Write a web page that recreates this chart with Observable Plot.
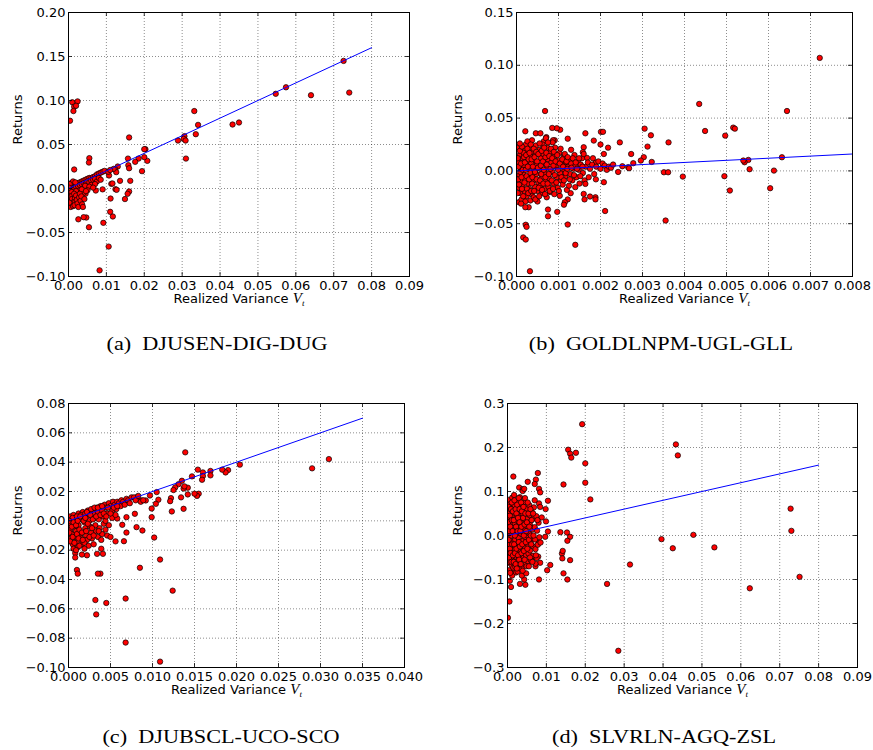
<!DOCTYPE html>
<html><head><meta charset="utf-8">
<script src="https://cdn.jsdelivr.net/npm/d3@7"></script>
<script src="https://cdn.jsdelivr.net/npm/@observablehq/plot@0.6"></script>
<style>
body{margin:0;background:#fff;}
#wrap{position:relative;width:873px;height:750px;background:#fff;overflow:hidden;}
.panel{position:absolute;}
.cap{position:absolute;width:400px;font-family:"Liberation Serif","Times New Roman",serif;font-size:19px;text-align:center;line-height:24px;white-space:pre;color:#000;transform:scaleX(1.17);transform-origin:50% 50%;}
</style></head><body><div id="wrap"></div>
<script>
// ---------- tick values ----------
const xTicksA = [0,0.01,0.02,0.03,0.04,0.05,0.06,0.07,0.08,0.09];
const yTicksA = [-0.10,-0.05,0,0.05,0.10,0.15,0.20];
const xTicksB = [0,0.001,0.002,0.003,0.004,0.005,0.006,0.007,0.008];
const yTicksB = [-0.10,-0.05,0,0.05,0.10,0.15];
const xTicksC = [0,0.005,0.010,0.015,0.020,0.025,0.030,0.035,0.040];
const yTicksC = [-0.10,-0.08,-0.06,-0.04,-0.02,0,0.02,0.04,0.06,0.08];
const xTicksD = [0,0.01,0.02,0.03,0.04,0.05,0.06,0.07,0.08,0.09];
const yTicksD = [-0.3,-0.2,-0.1,0,0.1,0.2,0.3];

// ---------- captions ----------
const captions = ["(a)  DJUSEN-DIG-DUG","(b)  GOLDLNPM-UGL-GLL","(c)  DJUBSCL-UCO-SCO","(d)  SLVRLN-AGQ-ZSL"];

// ---------- fitted lines (endpoints) ----------
const fitA = [[0,0],[0.08,0.16]];
const fitB = [[0,0],[0.008,0.016]];
const fitC = [[0,0],[0.035,0.07]];
const fitD = [[0,0],[0.08,0.16]];

// ---------- scatter points [realized variance, return] ----------
const ptsA = [
[0.0726,0.145],[0.0741,0.109],[0.0640,0.106],[0.0574,0.115],[0.0547,0.1076],[0.0450,0.075],[0.0433,0.0727],
[0.0332,0.088],[0.0342,0.0723],[0.0336,0.0617],[0.0306,0.0595],[0.0304,0.0564],[0.0309,0.0545],[0.0289,0.0545],
[0.0310,0.034],[0.0203,0.0447],[0.0200,0.0447],[0.0208,0.0314],[0.0200,0.0356],[0.0194,0.0197],[0.0185,0.034],
[0.0176,0.0303],[0.0160,0.058],[0.0157,0.034],[0.0158,0.0265],[0.0160,0.023],[0.0163,0.0087],[0.0160,-0.0034],
[0.0156,-0.006],[0.0149,-0.012],[0.0136,0.0087],[0.0130,0.025],[0.0123,0.022],[0.0126,0.0186],[0.0119,0.0223],
[0.0124,-0.0008],[0.0113,0.0053],[0.0117,-0.0318],[0.0110,-0.0265],[0.0111,-0.0114],[0.0106,-0.066],[0.0092,-0.039],
[0.0082,-0.093],[0.0054,-0.044],[0.0047,-0.033],[0.0040,-0.0326],[0.0026,-0.035],[0.0055,0.0345],[0.0054,0.0295],
[0.0015,0.0216],[0.0010,0.098],[0.0024,0.099],[0.0015,0.093],[0.0020,0.094],[0.0013,0.088],[0.0004,0.077],
[0.0107,0.0148],[0.0116,0.0057],[0.0072,-0.0023],[0.0063,0.0053],[0.0127,-0.0015],[0.0090,-0.001],
[0.0003,0.001],[0.0008,0.002],[0.0012,0.003],[0.0016,0.004],[0.0020,0.005],[0.0025,0.006],[0.0030,0.007],
[0.0035,0.008],[0.0040,0.009],[0.0045,0.010],[0.0050,0.011],[0.0055,0.012],[0.0060,0.012],[0.0065,0.013],
[0.0070,0.014],[0.0075,0.016],[0.0080,0.017],[0.0085,0.018],[0.0090,0.019],[0.0095,0.020],[0.0105,0.019],[0.0110,0.021],
[0.0010,0.000],[0.0015,0.001],[0.0020,0.002],[0.0025,0.003],[0.0030,0.004],[0.0035,0.005],[0.0040,0.006],
[0.0045,0.005],[0.0050,0.008],[0.0055,0.007],[0.0060,0.009],[0.0065,0.010],[0.0070,0.011],[0.0075,0.008],
[0.0080,0.012],[0.0085,0.010],[0.0044,0.003],[0.0060,0.004],[0.0070,0.005],[0.0055,0.002],[0.0065,0.001],
[0.0050,-0.002],[0.0045,-0.006],[0.0040,-0.005],[0.0030,-0.002],[0.0035,-0.001],[0.0020,-0.003],
[0.0002,-0.002],[0.0004,-0.006],[0.0003,-0.010],[0.0005,-0.014],[0.0004,-0.018],[0.0006,-0.021],[0.0008,-0.004],
[0.0010,-0.008],[0.0009,-0.012],[0.0011,-0.016],[0.0012,-0.020],[0.0015,-0.006],[0.0017,-0.011],[0.0018,-0.015],
[0.0016,-0.019],[0.0020,-0.008],[0.0022,-0.013],[0.0024,-0.017],[0.0026,-0.021],[0.0028,-0.010],[0.0030,-0.006],
[0.0032,-0.014],[0.0034,-0.009],[0.0036,-0.018],[0.0038,-0.021],[0.0005,0.003],[0.0007,0.006],[0.0012,0.008],
[0.0018,0.007],[0.0003,0.005],[0.0002,-0.016],[0.0001,0.001],[0.0042,-0.012],[0.0046,-0.003]
];

const ptsB = [
[0.00722,0.107],[0.00644,0.0567],[0.00435,0.0634],[0.00449,0.0378],[0.00516,0.041],[0.0052,0.040],[0.00497,0.0334],
[0.00632,0.0129],[0.00613,0.0003],[0.00604,-0.0164],[0.00552,0.0104],[0.00543,0.0082],[0.0054,0.0098],[0.00555,0.0016],
[0.00508,-0.0186],[0.00495,-0.005],[0.00396,-0.0054],[0.00355,-0.047],[0.00351,-0.0013],[0.00361,-0.0013],[0.00362,0.027],
[0.0032,0.0337],[0.00312,0.023],[0.00305,0.040],[0.00322,0.0085],[0.00303,0.013],[0.00296,0.0098],[0.00273,0.016],
[0.00278,0.0073],[0.00266,0.0035],[0.00268,0.0025],[0.00246,0.027],[0.00242,-0.001],[0.00252,0.0044],[0.00211,-0.038],
[0.00208,-0.0107],[0.00218,0.022],[0.00208,0.016],[0.00201,0.037],[0.00206,0.037],[0.0020,0.025],[0.00189,0.0079],
[0.00188,-0.025],[0.00188,-0.027],[0.00189,-0.008],[0.00184,0.0287],[0.00175,-0.0243],[0.00162,-0.027],[0.0016,-0.0218],
[0.00162,-0.009],[0.00164,-0.0123],[0.0016,0.0224],[0.00164,0.0356],[0.00158,0.0177],[0.00168,0.0123],[0.0014,-0.070],
[0.00122,-0.0508],[0.0014,-0.0154],[0.00129,-0.0211],[0.00122,-0.027],[0.00115,-0.0296],[0.00113,-0.032],[0.00122,0.0305],
[0.00104,0.039],[0.00096,0.0404],[0.00085,0.0407],[0.00091,0.029],[0.00087,0.029],[0.00097,-0.0388],[0.00103,-0.0236],
[0.00075,-0.0366],[0.00075,-0.043],[0.00068,0.0567],[0.00022,-0.051],[0.00016,-0.063],[0.00022,-0.065],[0.00032,-0.095],
[0.00024,-0.053],[0.00021,0.0375],[0.00006,-0.0296],[0.00029,-0.0344],[0.00021,-0.0344],[0.0005,-0.029],[0.00037,0.029],
[0.00046,0.0356],[0.00057,0.0356],[0.00071,0.032],
[0.00005,0.022],[0.00008,0.015],[0.00006,0.008],[0.0001,0.002],[0.00007,-0.004],[0.0001,-0.010],[0.00006,-0.016],
[0.00009,-0.021],[0.00012,-0.027],[0.00015,0.012],[0.00018,0.005],[0.00016,-0.002],[0.0002,-0.008],[0.00014,-0.014],
[0.00019,-0.019],[0.0002,0.019],[0.00022,0.025],[0.00024,-0.024],[0.00025,0.009],[0.00027,-0.012],[0.00017,0.017],
[0.0003,0.021],[0.00032,0.014],[0.00028,0.003],[0.00034,-0.005],[0.0003,-0.017],[0.00036,-0.022],[0.00033,-0.028],
[0.00038,0.018],[0.0004,0.010],[0.00042,0.001],[0.0004,-0.009],[0.00044,-0.015],[0.00041,-0.025],[0.00046,0.024],
[0.00048,0.006],[0.00047,-0.003],[0.0005,-0.019],[0.00045,0.015],[0.00052,-0.011],[0.00035,0.007],[0.00037,-0.012],
[0.00055,0.020],[0.00058,0.012],[0.00056,0.002],[0.0006,-0.006],[0.00057,-0.014],[0.00062,-0.021],[0.00065,0.028],
[0.00064,0.016],[0.00066,0.007],[0.00068,-0.002],[0.0007,-0.010],[0.00067,-0.017],[0.00072,-0.025],[0.00074,0.022],
[0.00075,0.011],[0.00073,0.003],[0.00078,-0.007],[0.00076,-0.015],[0.0008,0.018],[0.0008,-0.020],[0.00062,0.025],[0.0007,0.031],
[0.00083,0.008],[0.00085,-0.001],[0.00088,-0.012],[0.0009,0.014],[0.00092,0.022],[0.00094,0.004],[0.00096,-0.006],
[0.00098,-0.016],[0.0010,0.010],[0.00102,0.017],[0.00104,-0.002],[0.00106,-0.009],[0.00108,0.006],[0.0011,-0.013],
[0.00112,0.013],[0.00114,0.001],[0.00116,-0.005],[0.00118,0.008],[0.0012,-0.018],[0.0009,-0.022],[0.00086,0.027],
[0.00123,0.004],[0.00126,0.011],[0.00128,-0.003],[0.0013,0.007],[0.00133,-0.009],[0.00136,0.002],[0.00138,0.015],
[0.0014,0.005],[0.00143,-0.006],[0.00146,0.009],[0.00148,0.001],[0.0015,-0.012],[0.00153,0.006],[0.00156,0.012],
[0.00158,-0.002],[0.0013,0.020],[0.00125,-0.014],
[0.00165,0.004],[0.0017,0.008],[0.00175,0.002],[0.0018,0.006],[0.00185,-0.003],[0.0019,0.004],[0.00195,0.009],
[0.0020,0.002],[0.00205,0.007],[0.0021,0.005],[0.00215,0.001],[0.0022,0.004],[0.00225,0.003],[0.0023,0.006],
[0.00172,-0.006],[0.00182,0.012],[0.0016,0.016],
[0.00003,0.012],[0.00004,-0.008],[0.00005,0.004],[0.00006,-0.013],[0.00008,0.019],[0.00009,-0.001],[0.00011,0.007],
[0.00012,-0.006],[0.00013,0.023],[0.00013,-0.017],[0.00015,0.001],[0.00016,-0.024],[0.00018,0.013],[0.00019,-0.011],
[0.0002,0.008],[0.00021,-0.029],[0.00022,0.001],[0.00023,0.015],[0.00024,-0.005],[0.00025,-0.017],[0.00026,0.021],
[0.00027,0.004],[0.00028,-0.021],[0.00029,0.011],[0.0003,-0.008],[0.00008,0.026],[0.00003,-0.021],[0.00011,-0.031],[0.00026,0.028],
[0.00031,0.017],[0.00033,-0.002],[0.00034,0.025],[0.00035,-0.019],[0.00036,0.011],[0.00038,-0.006],[0.00039,0.004],
[0.00041,0.021],[0.00042,-0.019],[0.00043,0.013],[0.00044,-0.001],[0.00045,-0.027],[0.00047,0.018],[0.00048,-0.008],
[0.00049,0.009],[0.00051,0.003],[0.00052,0.016],[0.00053,-0.016],[0.00054,-0.024],[0.00055,0.026],[0.00056,-0.009],
[0.00058,0.005],[0.00059,-0.003],[0.0006,0.019],[0.00061,-0.018],[0.00063,0.009],[0.00064,-0.012],[0.00065,0.001],
[0.00066,0.022],[0.00068,-0.022],[0.00069,0.013],[0.00069,-0.006],
[0.00071,0.017],[0.00072,0.006],[0.00074,-0.012],[0.00075,0.027],[0.00077,-0.003],[0.00078,0.014],[0.00079,-0.019],
[0.00081,0.002],[0.00082,0.021],[0.00084,-0.009],[0.00085,0.012],[0.00087,-0.017],[0.00088,0.005],[0.00089,0.018],
[0.00091,-0.004],[0.00093,0.009],[0.00095,-0.011],[0.00097,0.015],[0.00099,0.001],[0.00101,-0.019],[0.00103,0.007],
[0.00105,0.021],[0.00107,-0.006],[0.00109,0.011],[0.00111,0.004],[0.00113,-0.009],[0.00115,0.016],[0.00117,-0.002],
[0.00119,0.009],[0.00121,0.002],
[0.00122,0.013],[0.00127,-0.008],[0.00131,0.003],[0.00134,0.012],[0.00137,-0.004],[0.00141,0.008],[0.00144,0.002],
[0.00149,0.012],[0.00152,-0.005],[0.00157,0.004]
];

const ptsC = [
[0.0310,0.0421],[0.0290,0.0358],[0.0204,0.0383],[0.0190,0.0346],[0.0187,0.033],[0.0183,0.0349],[0.0169,0.034],
[0.0169,0.031],[0.0160,0.033],[0.0160,0.0305],[0.0159,0.028],[0.0154,0.0349],[0.0147,0.0303],[0.0155,0.0185],
[0.0153,0.017],[0.0150,0.0185],[0.0139,0.0467],[0.0142,0.0226],[0.0142,0.018],[0.0137,0.022],[0.0138,0.0235],
[0.0135,0.0273],[0.0131,0.025],[0.0127,0.0228],[0.0125,0.021],[0.0134,0.016],[0.0137,0.0082],[0.0124,-0.0476],
[0.0123,0.0064],[0.0122,0.0155],[0.0121,0.0134],[0.0109,-0.0264],[0.0102,-0.0114],[0.0099,0.0025],[0.0099,0.0084],
[0.0105,0.0196],[0.0107,0.0144],[0.0097,0.0173],[0.0104,0.0116],[0.0092,0.0139],[0.0087,0.0139],[0.0088,-0.0066],
[0.0085,-0.032],[0.0081,-0.0043],[0.0081,0.016],[0.0079,0.0048],[0.0068,-0.083],[0.0068,-0.053],[0.0069,-0.008],
[0.0069,0.0025],[0.0066,0.012],[0.0066,-0.0139],[0.0064,-0.0027],[0.0045,-0.056],[0.0032,-0.054],[0.0033,-0.0638],
[0.0109,-0.096],[0.0038,-0.036],[0.0035,-0.036],[0.0010,-0.0335],[0.0011,-0.036],[0.0022,-0.0235],[0.0016,-0.023],
[0.0008,-0.022],[0.0008,-0.025],[0.0034,-0.0225],[0.0041,-0.0225],[0.0039,-0.019],[0.0046,-0.010],[0.0050,-0.011],
[0.0056,-0.014],[0.0058,0.0016],
[0.0002,0.003],[0.0004,0.001],[0.0003,-0.002],[0.0002,-0.006],[0.0004,-0.009],[0.0003,-0.012],[0.0005,-0.016],
[0.0006,0.004],[0.0008,0.002],[0.0007,-0.004],[0.0009,-0.007],[0.0008,-0.011],[0.0010,-0.014],[0.0011,-0.018],
[0.0012,0.005],[0.0013,0.001],[0.0012,-0.003],[0.0014,-0.009],[0.0015,-0.012],[0.0016,-0.016],[0.0017,0.006],
[0.0018,0.003],[0.0019,-0.001],[0.0020,-0.005],[0.0021,-0.010],[0.0022,-0.013],[0.0023,0.007],[0.0024,0.004],
[0.0025,0.000],[0.0026,-0.004],[0.0027,-0.008],[0.0028,-0.012],[0.0029,0.008],[0.0030,0.005],[0.0031,0.002],
[0.0032,-0.003],[0.0033,-0.007],[0.0034,0.009],[0.0035,0.006],[0.0036,0.001],[0.0037,-0.005],[0.0038,0.010],
[0.0040,0.007],[0.0041,0.003],[0.0042,-0.002],[0.0043,0.011],[0.0045,0.009],[0.0046,0.005],[0.0048,0.012],
[0.0050,0.010],[0.0052,0.007],[0.0053,0.013],[0.0055,0.011],[0.0057,0.008],[0.0058,0.013],[0.0060,0.012],
[0.0062,0.010],[0.0063,0.014],[0.0065,0.013],[0.0067,0.011],[0.0069,0.015],[0.0071,0.014],[0.0073,0.012],
[0.0075,0.016],[0.0078,0.016],[0.0080,0.014],[0.0083,0.017],[0.0086,0.013],[0.0089,0.014],[0.0005,0.002],
[0.0010,0.003],[0.0015,0.004],[0.0020,0.005],[0.0006,-0.019],[0.0009,-0.020],[0.0013,-0.017],[0.0019,-0.015],
[0.0024,-0.017],[0.0030,-0.016],[0.0035,-0.011],[0.0040,-0.009],[0.0044,-0.006],[0.0048,-0.003],[0.0052,0.002],
[0.0056,0.004],[0.0044,0.000],[0.0039,-0.013],
[0.0001,0.000],[0.0001,-0.008],[0.0002,-0.014],[0.0004,-0.004],[0.0005,-0.011],[0.0006,-0.001],[0.0007,-0.015],
[0.0009,-0.003],[0.0010,-0.009],[0.0011,0.000],[0.0012,-0.012],[0.0013,-0.006],[0.0014,0.003],[0.0016,-0.008],
[0.0017,-0.013],[0.0018,0.000],[0.0019,-0.019],[0.0020,0.002],[0.0021,-0.007],[0.0022,0.006],[0.0023,-0.002],
[0.0025,-0.011],[0.0026,0.004],[0.0027,0.008],[0.0028,-0.005],[0.0029,0.001],[0.0030,-0.010],[0.0031,0.009],
[0.0033,0.003],[0.0035,0.009],[0.0036,-0.007],[0.0038,0.004],[0.0040,0.010],[0.0042,0.005],[0.0045,0.003],
[0.0047,0.009],[0.0050,0.005],[0.0054,0.009],[0.0058,0.010]
];

const ptsD = [
[0.0192,0.253],[0.0156,0.195],[0.0161,0.186],[0.0164,0.177],[0.0176,0.188],[0.0200,0.164],[0.0200,0.120],
[0.0213,0.082],[0.0144,0.116],[0.0433,0.207],[0.0438,0.182],[0.0728,0.061],[0.0730,0.0106],[0.0751,-0.094],
[0.0623,-0.120],[0.0532,-0.027],[0.0478,0.0015],[0.0425,-0.029],[0.0396,-0.0083],[0.0315,-0.066],[0.0256,-0.110],
[0.0285,-0.262],[0.0136,0.0076],[0.0153,0.0068],[0.0161,-0.003],[0.0154,-0.012],[0.0140,-0.041],[0.0142,-0.035],
[0.0141,-0.052],[0.0161,-0.056],[0.0144,-0.086],[0.0154,-0.100],[0.0104,0.009],[0.0110,-0.067],[0.0102,-0.079],
[0.0081,-0.100],[0.0084,-0.062],[0.0072,-0.070],[0.0079,-0.048],[0.0070,-0.047],[0.0001,-0.187],[0.0005,-0.150],
[0.0009,-0.117],[0.0006,-0.103],[0.0015,0.134],[0.0078,0.142],[0.0073,0.127],[0.0070,0.117],[0.0052,0.122],
[0.0030,0.109],[0.0039,0.105],[0.0039,0.101],[0.0043,0.106],[0.0081,0.106],[0.0084,0.098],[0.0104,0.079],
[0.0099,0.032],[0.0098,0.060],[0.0081,0.073],[0.0084,0.065],[0.0032,-0.110],[0.0046,-0.112],[0.0043,-0.100],
[0.0019,-0.080],[0.0097,-0.003],[0.0080,-0.017],[0.0088,0.041],
[0.0002,0.081],[0.0004,0.058],[0.0003,0.041],[0.0005,0.022],[0.0002,0.002],[0.0004,-0.021],[0.0003,-0.038],
[0.0005,-0.062],[0.0004,-0.079],[0.0006,0.071],[0.0008,0.049],[0.0007,0.031],[0.0009,0.012],[0.0008,-0.011],
[0.0010,-0.029],[0.0009,-0.052],[0.0011,-0.068],[0.0012,-0.091],[0.0012,0.086],[0.0013,0.063],[0.0014,0.046],
[0.0013,0.024],[0.0015,0.006],[0.0014,-0.016],[0.0015,-0.034],[0.0013,-0.057],[0.0015,-0.073],
[0.0017,0.092],[0.0018,0.069],[0.0017,0.052],[0.0019,0.028],[0.0018,0.011],[0.0020,-0.009],[0.0019,-0.031],
[0.0021,-0.048],[0.0020,-0.071],[0.0022,-0.084],[0.0023,0.078],[0.0024,0.061],[0.0022,0.039],[0.0025,0.021],
[0.0024,-0.001],[0.0026,-0.022],[0.0025,-0.041],[0.0027,-0.058],[0.0026,-0.082],[0.0028,0.074],[0.0029,0.056],
[0.0028,0.033],[0.0030,0.016],[0.0029,-0.006],[0.0030,-0.024],[0.0028,-0.046],[0.0030,-0.066],
[0.0032,0.087],[0.0033,0.064],[0.0034,0.044],[0.0032,0.026],[0.0035,0.004],[0.0033,-0.014],[0.0034,-0.036],
[0.0036,-0.054],[0.0035,-0.076],[0.0037,-0.091],[0.0038,0.071],[0.0039,0.049],[0.0038,0.031],[0.0040,0.009],
[0.0041,-0.011],[0.0039,-0.029],[0.0041,-0.051],[0.0040,-0.069],[0.0043,0.076],[0.0044,0.054],[0.0045,0.036],
[0.0043,0.014],[0.0046,-0.004],[0.0045,-0.026],[0.0047,-0.044],[0.0046,-0.066],[0.0048,-0.086],
[0.0050,0.061],[0.0052,0.039],[0.0051,0.021],[0.0053,-0.001],[0.0052,-0.019],[0.0054,-0.041],[0.0053,-0.059],
[0.0056,0.069],[0.0057,0.046],[0.0058,0.024],[0.0057,0.004],[0.0059,-0.016],[0.0058,-0.034],[0.0060,-0.056],
[0.0062,0.054],[0.0063,0.036],[0.0064,0.014],[0.0063,-0.006],[0.0065,-0.024],[0.0066,-0.046],[0.0068,0.064],
[0.0069,0.041],[0.0070,0.019],[0.0071,-0.009],[0.0072,-0.031],[0.0074,0.044],[0.0076,0.011],[0.0078,-0.021],
[0.0075,-0.051],[0.0072,-0.064],[0.0080,0.029],[0.0082,-0.004],[0.0085,-0.016],
[0.0001,0.050],[0.0001,-0.060],[0.0002,0.030],[0.0003,-0.010],[0.0003,0.065],[0.0004,-0.050],[0.0005,0.010],
[0.0006,-0.030],[0.0006,0.045],[0.0007,-0.085],[0.0007,0.020],[0.0008,-0.040],[0.0009,0.060],[0.0010,0.000],
[0.0010,-0.060],[0.0011,0.035],[0.0011,0.075],[0.0012,-0.020],[0.0013,0.010],[0.0014,-0.045],[0.0014,0.055],
[0.0016,-0.060],[0.0016,0.035],[0.0017,-0.020],[0.0018,0.080],[0.0019,-0.040],[0.0019,0.000],[0.0021,0.060],
[0.0021,-0.065],[0.0022,0.020],[0.0023,-0.030],[0.0023,0.050],[0.0024,-0.075],[0.0025,0.070],[0.0026,0.010],
[0.0027,-0.045],[0.0027,0.040],[0.0029,-0.015],[0.0029,0.085],[0.0030,-0.055],[0.0031,0.030],[0.0031,0.060],
[0.0032,-0.025],[0.0033,0.010],[0.0034,-0.065],[0.0035,0.075],[0.0036,0.020],[0.0036,-0.040],[0.0037,0.055],
[0.0038,-0.020],[0.0039,-0.080],[0.0040,0.040],[0.0041,0.065],[0.0042,-0.035],[0.0042,0.000],[0.0044,0.025],
[0.0044,-0.055],[0.0045,0.085],[0.0046,0.050],[0.0047,-0.015],[0.0048,0.010],[0.0049,-0.070],[0.0050,0.030],
[0.0051,-0.030],[0.0052,0.075],[0.0054,0.050],[0.0055,-0.010],[0.0055,-0.070],[0.0056,0.020],[0.0058,-0.050],
[0.0059,0.060],[0.0060,0.000],[0.0061,-0.020],[0.0062,0.035],[0.0064,-0.060],[0.0066,0.050],[0.0067,0.000],
[0.0070,0.080],[0.0073,-0.045],[0.0077,0.035]
];

// ---------- layout ----------
const panels = [
  {left:0,   top:0,   width:440, mL:68, mR:31, xDom:[0,0.09],  yDom:[-0.10,0.20], xT:xTicksA, yT:yTicksA, xF:".2f", yF:".2f", pts:ptsA, fit:fitA, cap:captions[0], capX:217, capTop:332},
  {left:440, top:0,   width:433, mL:76, mR:21, xDom:[0,0.008], yDom:[-0.10,0.15], xT:xTicksB, yT:yTicksB, xF:".3f", yF:".2f", pts:ptsB, fit:fitB, cap:captions[1], capX:661, capTop:332},
  {left:0,   top:391, width:440, mL:68, mR:36, xDom:[0,0.040], yDom:[-0.10,0.08], xT:xTicksC, yT:yTicksC, xF:".3f", yF:".2f", pts:ptsC, fit:fitC, cap:captions[2], capX:221, capTop:725},
  {left:440, top:391, width:433, mL:67, mR:16, xDom:[0,0.09],  yDom:[-0.3,0.3],   xT:xTicksD, yT:yTicksD, xF:".2f", yF:".1f", pts:ptsD, fit:fitD, cap:captions[3], capX:664, capTop:725}
];
const H = 320, mT = 12, mB = 44;
const wrap = document.getElementById("wrap");

for (const p of panels) {
  const pw = p.width - p.mL - p.mR, ph = H - mT - mB;
  const tx = (p.xDom[1]-p.xDom[0]) * 4 / pw;
  const ty = (p.yDom[1]-p.yDom[0]) * 4 / ph;
  const fx = d3.format(p.xF), fy = d3.format(p.yF);
  const chart = Plot.plot({
    width: p.width, height: H,
    marginLeft: p.mL, marginRight: p.mR, marginTop: mT, marginBottom: mB,
    style: {fontFamily: "DejaVu Sans, sans-serif", fontSize: "13px", background: "white", color: "black", overflow: "visible"},
    x: {domain: p.xDom, ticks: p.xT, tickFormat: fx, tickSize: 0, tickPadding: 4, label: null},
    y: {domain: p.yDom, ticks: p.yT, tickFormat: fy, tickSize: 0, tickPadding: 3, label: null},
    marks: [
      Plot.ruleX(p.xT, {x: d => d, stroke: "#000", strokeOpacity: 0.75, strokeWidth: 0.6, strokeDasharray: "1,2"}),
      Plot.ruleY(p.yT, {y: d => d, stroke: "#000", strokeOpacity: 0.75, strokeWidth: 0.6, strokeDasharray: "1,2"}),
      Plot.dot(p.pts, {x: d => d[0], y: d => d[1], r: 2.7, fill: "#ff0000", stroke: "#000", strokeWidth: 0.7, clip: true}),
      Plot.line(p.fit, {x: d => d[0], y: d => d[1], stroke: "#0000ff", strokeWidth: 1}),
      Plot.frame({stroke: "#000", strokeWidth: 1}),
      Plot.ruleX(p.xT, {x: d => d, y1: p.yDom[0], y2: p.yDom[0] + ty, stroke: "#000", strokeWidth: 0.8}),
      Plot.ruleX(p.xT, {x: d => d, y1: p.yDom[1] - ty, y2: p.yDom[1], stroke: "#000", strokeWidth: 0.8}),
      Plot.ruleY(p.yT, {y: d => d, x1: p.xDom[0], x2: p.xDom[0] + tx, stroke: "#000", strokeWidth: 0.8}),
      Plot.ruleY(p.yT, {y: d => d, x1: p.xDom[1] - tx, x2: p.xDom[1], stroke: "#000", strokeWidth: 0.8}),
      Plot.text(["Returns"], {text: d => d, frameAnchor: "left", dx: -(p.mL - 17), rotate: -90, fontSize: 13, fill: "#000"}),
      Plot.text(["Realized Variance V_t"], {text: d => d, frameAnchor: "bottom", dy: 26, fontSize: 13, fill: "#000"})
    ]
  });
  // italic V with subscript t in the x label
  d3.select(chart).selectAll("text").filter(function(){ return this.textContent === "Realized Variance V_t"; })
    .each(function(){
      const t = d3.select(this);
      t.text(null);
      t.append("tspan").text("Realized Variance ");
      t.append("tspan").attr("font-family", "Liberation Serif, serif").attr("font-style", "italic").attr("font-size", "15px").text("V");
      t.append("tspan").attr("font-family", "Liberation Serif, serif").attr("font-style", "italic").attr("font-size", "9px").attr("dy", "3").text("t");
    });
  const div = document.createElement("div");
  div.className = "panel";
  div.style.left = p.left + "px";
  div.style.top = p.top + "px";
  div.appendChild(chart);
  wrap.appendChild(div);
  const cap = document.createElement("div");
  cap.className = "cap";
  cap.textContent = p.cap;
  cap.style.left = (p.capX - 200) + "px";
  cap.style.top = p.capTop + "px";
  wrap.appendChild(cap);
}
</script></body></html>
